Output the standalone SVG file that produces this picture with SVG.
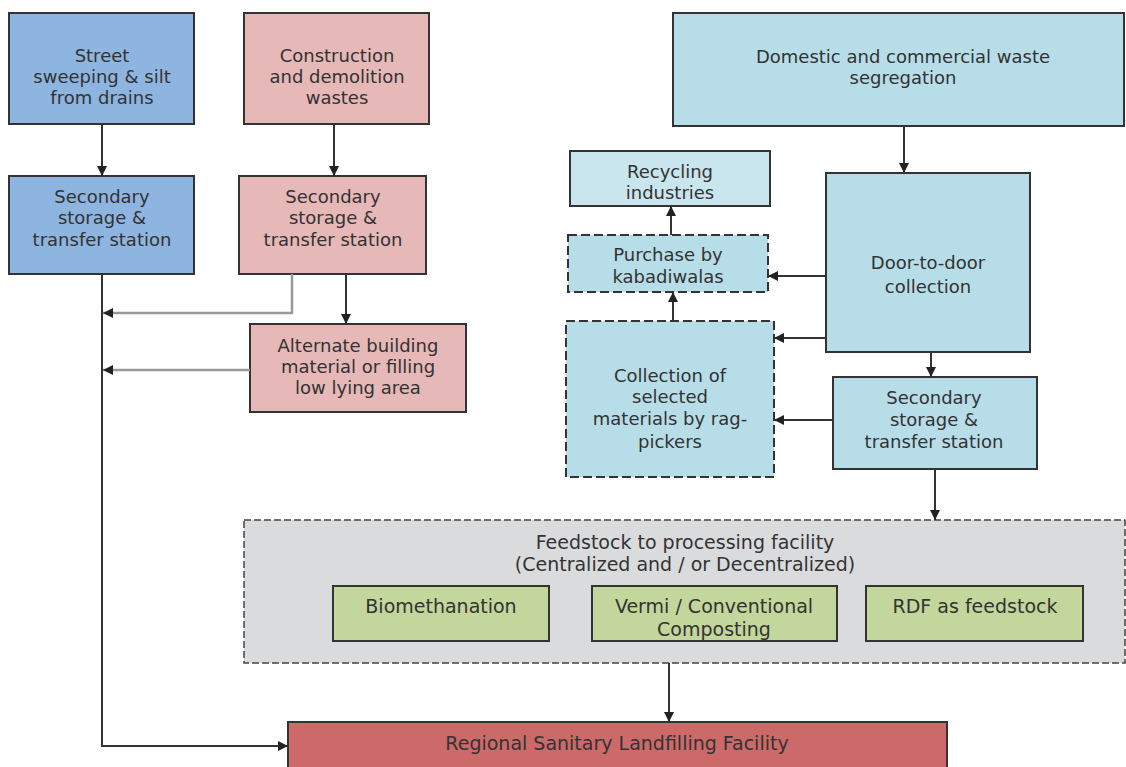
<svg xmlns="http://www.w3.org/2000/svg" width="1126" height="767" viewBox="0 0 1126 767">
<style>
  .box{stroke:#333;stroke-width:2}
  .dash{stroke:#333;stroke-width:2;stroke-dasharray:9 4}
  .fdash{stroke:#444;stroke-width:1.5;stroke-dasharray:7 3}
  .blue{fill:#8eb4e0}
  .pink{fill:#e6b8b7}
  .cyan{fill:#b7dde8}
  .cyanl{fill:#c9e6ee}
  .grey{fill:#dadbdd}
  .green{fill:#c3d69b}
  .red{fill:#cc6a69}
  text{font-family:"DejaVu Sans","Liberation Sans",sans-serif;font-size:18px;fill:#333;text-anchor:middle}
  .big{font-size:19px}
  .conn{fill:none;stroke:#333;stroke-width:2}
  .connG{fill:none;stroke:#999;stroke-width:2.5}
</style>
<defs>
  <marker id="ah" viewBox="0 0 10 10" refX="10" refY="5" markerWidth="10" markerHeight="10" markerUnits="userSpaceOnUse" orient="auto">
    <path d="M0,0 L10,5 L0,10 z" fill="#222"/>
  </marker>
  <clipPath id="vclip"><rect x="592" y="586" width="245" height="54"/></clipPath>
</defs>
<rect width="1126" height="767" fill="#fff"/>

<g id="street">
  <rect class="box blue" x="9" y="13" width="185" height="111"/>
  <text x="102" y="62">Street</text>
  <text x="102" y="83">sweeping &amp; silt</text>
  <text x="102" y="104">from drains</text>
</g>
<g id="construction">
  <rect class="box pink" x="244" y="13" width="185" height="111"/>
  <text x="337" y="62">Construction</text>
  <text x="337" y="83">and demolition</text>
  <text x="337" y="104">wastes</text>
</g>
<g id="secondary-blue">
  <rect class="box blue" x="9" y="176" width="185" height="98"/>
  <text x="102" y="203">Secondary</text>
  <text x="102" y="224">storage &amp;</text>
  <text x="102" y="246">transfer station</text>
</g>
<g id="secondary-pink">
  <rect class="box pink" x="239" y="176" width="187" height="98"/>
  <text x="333" y="203">Secondary</text>
  <text x="333" y="224">storage &amp;</text>
  <text x="333" y="246">transfer station</text>
</g>
<g id="alternate">
  <rect class="box pink" x="250" y="324" width="216" height="88"/>
  <text x="358" y="352">Alternate building</text>
  <text x="358" y="373">material or filling</text>
  <text x="358" y="394">low lying area</text>
</g>
<g id="domestic">
  <rect class="box cyan" x="673" y="13" width="451" height="113"/>
  <text x="903" y="63">Domestic and commercial waste</text>
  <text x="903" y="84">segregation</text>
</g>
<g id="recycling">
  <rect class="box cyanl" x="570" y="151" width="200" height="55"/>
  <text x="670" y="178">Recycling</text>
  <text x="670" y="199">industries</text>
</g>
<g id="purchase">
  <rect class="dash cyan" x="568" y="235" width="200" height="57"/>
  <text x="668" y="261">Purchase by</text>
  <text x="668" y="283">kabadiwalas</text>
</g>
<g id="door">
  <rect class="box cyan" x="826" y="173" width="204" height="179"/>
  <text x="928" y="269">Door-to-door</text>
  <text x="928" y="293">collection</text>
</g>
<g id="collection">
  <rect class="dash cyan" x="566" y="321" width="208" height="156"/>
  <text x="670" y="382">Collection of</text>
  <text x="670" y="403">selected</text>
  <text x="670" y="425">materials by rag-</text>
  <text x="670" y="448">pickers</text>
</g>
<g id="secondary-right">
  <rect class="box cyan" x="833" y="377" width="204" height="92"/>
  <text x="934" y="404">Secondary</text>
  <text x="934" y="426">storage &amp;</text>
  <text x="934" y="448">transfer station</text>
</g>
<g id="feedstock">
  <rect class="fdash grey" x="244" y="520" width="881" height="143"/>
  <text class="big" x="685" y="549">Feedstock to processing facility</text>
  <text class="big" x="685" y="571">(Centralized and / or Decentralized)</text>
</g>
<g id="biomethanation">
  <rect class="box green" x="333" y="586" width="216" height="55"/>
  <text class="big" x="441" y="613">Biomethanation</text>
</g>
<g id="vermi">
  <rect class="box green" x="592" y="586" width="245" height="55"/>
  <g clip-path="url(#vclip)">
    <text class="big" x="714" y="613">Vermi / Conventional</text>
    <text class="big" x="714" y="636">Composting</text>
  </g>
</g>
<g id="rdf">
  <rect class="box green" x="866" y="586" width="217" height="55"/>
  <text class="big" x="975" y="613">RDF as feedstock</text>
</g>
<g id="regional">
  <rect class="box red" x="288" y="722" width="659" height="60"/>
  <text class="big" x="617" y="750">Regional Sanitary Landfilling Facility</text>
</g>

<g id="connectors">
  <path class="conn" d="M102 124 V176" marker-end="url(#ah)"/>
  <path class="conn" d="M334 124 V176" marker-end="url(#ah)"/>
  <path class="connG" d="M292 274 V313 H103" marker-end="url(#ah)"/>
  <path class="conn" d="M346 274 V324" marker-end="url(#ah)"/>
  <path class="connG" d="M250 370 H103" marker-end="url(#ah)"/>
  <path class="conn" d="M102 274 V746 H288" marker-end="url(#ah)"/>
  <path class="conn" d="M904 126 V173" marker-end="url(#ah)"/>
  <path class="conn" d="M826 276 H768" marker-end="url(#ah)"/>
  <path class="conn" d="M826 338 H774" marker-end="url(#ah)"/>
  <path class="conn" d="M931 352 V377" marker-end="url(#ah)"/>
  <path class="conn" d="M833 420 H774" marker-end="url(#ah)"/>
  <path class="conn" d="M671 235 V206" marker-end="url(#ah)"/>
  <path class="conn" d="M673 321 V292" marker-end="url(#ah)"/>
  <path class="conn" d="M935 469 V520" marker-end="url(#ah)"/>
  <path class="conn" d="M669 663 V722" marker-end="url(#ah)"/>
</g>
</svg>
